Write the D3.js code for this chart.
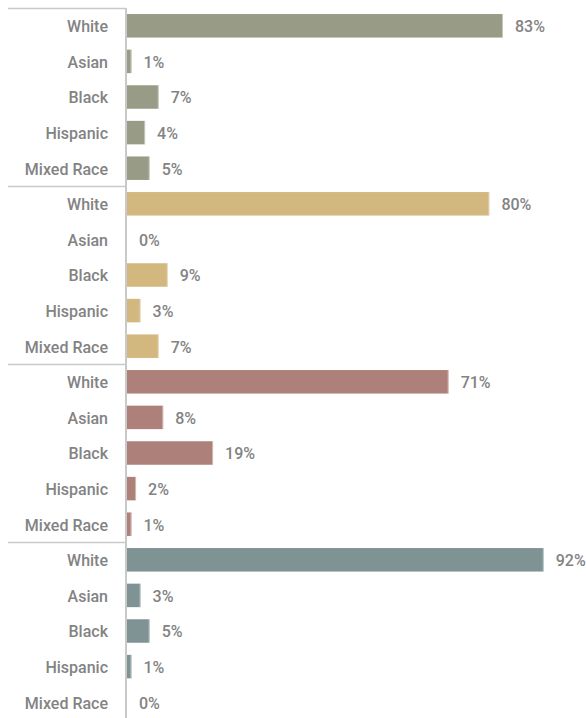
<!DOCTYPE html>
<html><head><meta charset="utf-8">
<script src="https://cdn.jsdelivr.net/npm/d3@7"></script>
<style>
html,body{margin:0;padding:0;background:#fff;}
svg{display:block;}
text{font-family:Roboto,"DejaVu Sans Condensed",sans-serif;font-weight:500;fill:#838383;}
</style></head>
<body><div id="chart"></div>
<script>
const categories = ["White","Asian","Black","Hispanic","Mixed Race"];
const groupIds = ["g1","g2","g3","g4"];
const values1 = [83,1,7,4,5];
const values2 = [80,0,9,3,7];
const values3 = [71,8,19,2,1];
const values4 = [92,3,5,1,0];
const colors = ["#989b85","#d2b77f","#ad807a","#7f9394"];
const allValues = [values1,values2,values3,values4];

(function(){
const W = 586, H = 718;
const topY = 8, groupH = 178, axisX = 126;
const svg = d3.select("#chart").append("svg").attr("width",W).attr("height",H);

const x = d3.scaleLinear().domain([0,100]).range([axisX+1, axisX+1+453]);
const gScale = d3.scaleBand().domain(groupIds).range([topY, topY+groupH*4]).padding(0);
const y = d3.scaleBand().domain(categories).range([0, groupH]).paddingInner(0.34).paddingOuter(0.17);

groupIds.forEach((gid,i)=>{
  const g = svg.append("g").attr("transform",`translate(0,${gScale(gid)})`);
  const data = categories.map((c,j)=>({c, v: allValues[i][j]}));
  g.append("line").attr("x1",8).attr("x2",axisX).attr("y1",0.5).attr("y2",0.5)
    .attr("stroke","#c9c9c9").attr("stroke-width",1.5);
  g.selectAll("rect").data(data).enter().append("rect")
    .attr("x",x(0)).attr("y",d=>y(d.c)).attr("height",y.bandwidth())
    .attr("width",d=>Math.max(0,x(d.v)-x(0)))
    .attr("fill",colors[i]);
  g.selectAll("line.edge").data(data.filter(d=>d.v>0)).enter().append("line")
    .attr("class","edge")
    .attr("x1",d=>x(d.v)-0.5).attr("x2",d=>x(d.v)-0.5)
    .attr("y1",d=>y(d.c)).attr("y2",d=>y(d.c)+y.bandwidth())
    .attr("stroke","#ffffff").attr("stroke-opacity",0.45);
  g.selectAll("text.cat").data(data).enter().append("text").attr("class","cat")
    .attr("x",108).attr("y",d=>y(d.c)+y.bandwidth()/2).attr("dy","0.4em")
    .attr("text-anchor","end").attr("font-size",16).text(d=>d.c);
  g.selectAll("text.val").data(data).enter().append("text").attr("class","val")
    .attr("x",d=>x(d.v)+12).attr("y",d=>y(d.c)+y.bandwidth()/2).attr("dy","0.4em")
    .attr("font-size",16).text(d=>d.v+"%");
});
svg.append("line").attr("x1",axisX).attr("x2",axisX).attr("y1",topY).attr("y2",topY+groupH*4)
  .attr("stroke","#c9c9c9").attr("stroke-width",2);
})();
</script></body></html>
